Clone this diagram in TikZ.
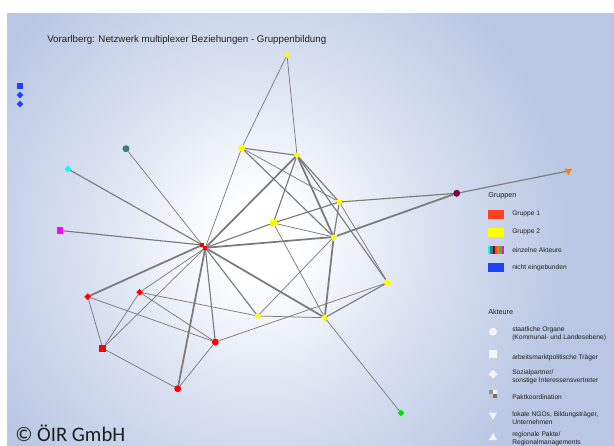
\documentclass[tikz,border=0pt]{standalone}
\usepackage{xcolor}
\usepackage{fontspec}
\setmainfont{Liberation Sans}
\newfontfamily\oirfont{Carlito}
\usepackage{tikz}
\usetikzlibrary{shapes}
\usetikzlibrary{shapes.geometric}
\usetikzlibrary{positioning}
\definecolor{bgblue}{RGB}{185,199,228}
\colorlet{glowmid}{bgblue!50!white}
\definecolor{linkgray}{RGB}{122,122,122}
\definecolor{yel}{RGB}{255,255,0}
\definecolor{rd}{RGB}{255,0,0}
\definecolor{tealc}{RGB}{58,126,120}
\definecolor{cyanc}{RGB}{0,255,255}
\definecolor{magc}{RGB}{255,0,255}
\definecolor{maroonc}{RGB}{128,0,64}
\definecolor{orangec}{RGB}{255,128,0}
\definecolor{greenc}{RGB}{0,225,0}
\definecolor{bluec}{RGB}{32,64,255}
\definecolor{swred}{RGB}{255,64,32}
\definecolor{txt}{RGB}{30,30,30}
\colorlet{legwhite}{white!80!bgblue}
\pgfdeclareradialshading{glow}{\pgfpoint{0bp}{0bp}}{color(0bp)=(white); color(3bp)=(white); color(12bp)=(glowmid); color(24bp)=(bgblue); color(50bp)=(bgblue)}
\pgfdeclarelayer{bg}
\pgfdeclarelayer{edges}
\pgfsetlayers{bg,edges,main}
\tikzset{
  lnk/.style = {draw=linkgray, line width=0.55pt},
  lnkm/.style = {lnk, line width=0.85pt},
  lnkw/.style = {lnk, line width=1.3pt},
  akt/.style = {inner sep=0pt, outer sep=0pt, draw=none},
  circ/.style = {akt, circle, minimum size=5.2pt},
  sq/.style = {akt, rectangle, minimum size=5pt},
  dia/.style = {akt, diamond, minimum size=5pt},
  tdown/.style = {akt, regular polygon, regular polygon sides=3, shape border rotate=180, minimum size=6.2pt},
  tup/.style = {akt, regular polygon, regular polygon sides=3, minimum size=7pt},
  swatch/.style = {rectangle, inner sep=0pt, minimum width=12pt, minimum height=6.5pt},
  leghead/.style = {anchor=west, inner sep=0pt, text=txt, font=\fontsize{5.4}{6.4}\selectfont},
  legtxt/.style = {anchor=west, inner sep=0pt, align=left, text=txt, font=\fontsize{5}{6}\selectfont}
}

\begin{document}
\begin{tikzpicture}[x=0.75pt, y=-0.75pt]
\useasboundingbox (0,0) rectangle (614,446);
\begin{pgfonlayer}{bg}
\fill[white] (0,0) rectangle (614,446);
\fill[bgblue] (7,13) rectangle (614,446);
\begin{scope}
\clip (7,13) rectangle (614,446);
\shade[shading=glow] (258,238) circle (330);
\end{scope}
\end{pgfonlayer}

\node [leghead, font=\fontsize{7.3}{8}\selectfont] (title) at (47,40) {Vorarlberg: Netzwerk multiplexer Beziehungen - Gruppenbildung};
\node [anchor=base west, inner sep=0pt, text=txt, font=\oirfont\fontsize{15.5}{18}\selectfont] (oir) at (15,441.5) {© ÖIR GmbH};

% nicht eingebunden
\node [sq, fill=bluec, minimum size=4pt] (nb1) at (20,86) {};
\node [dia, fill=bluec] (nb2) at (20,95) {};
\node [dia, fill=bluec] (nb3) at (20,104) {};

% Gruppe 2
\node [circ, fill=yel, minimum size=4pt] (ytop) at (287,55) {};
\node [circ, fill=yel] (ycirc) at (241.7,148) {};
\node [tdown, fill=yel] (ytri1) at (297,155.3) {};
\node [tdown, fill=yel] (ytri2) at (339.3,202) {};
\node [sq, fill=yel] (ysq) at (273.3,223) {};
\node [tdown, fill=yel] (ytri3) at (333.7,237) {};
\node [circ, fill=yel] (ycirc2) at (387.7,282.5) {};
\node [dia, fill=yel] (ydia1) at (257.7,316) {};
\node [dia, fill=yel] (ydia2) at (324.7,317.7) {};

% Gruppe 1
\node [sq, fill=rd, minimum size=3pt] (rc1) at (202.3,245) {};
\node [sq, fill=rd, minimum size=3pt] (rc2) at (205.3,247.8) {};
\node [dia, fill=rd] (rdia1) at (87.7,296.7) {};
\node [dia, fill=rd] (rdia2) at (139.7,292.3) {};
\node [sq, fill=rd, minimum size=5.4pt] (rsq) at (102.7,348.3) {};
\node [circ, fill=rd] (rcirc1) at (215.3,342) {};
\node [circ, fill=rd] (rcirc2) at (177.7,388.7) {};

% einzelne Akteure
\node [circ, fill=tealc] (teal) at (126,148.7) {};
\node [dia, fill=cyanc] (cyan) at (68,169) {};
\node [sq, fill=magc] (mag) at (60,230.5) {};
\node [circ, fill=maroonc] (maroon) at (456.7,193.3) {};
\node [tdown, fill=orangec] (orange) at (568.3,171) {};
\node [dia, fill=greenc] (green) at (401,413) {};

\begin{pgfonlayer}{edges}
\draw [lnk] (rc1) -- (teal);
\draw [lnkm] (rc1) -- (cyan);
\draw [lnkm] (rc1) -- (mag);
\draw [lnk] (rc2) -- (ycirc);
\draw [lnkw] (rc2) -- (ytri1);
\draw [lnkm] (rc2) -- (ysq);
\draw [lnkw] (rc2) -- (ytri3);
\draw [lnkw] (rc1) -- (rdia1);
\draw [lnk] (rc2) -- (rdia2);
\draw [lnk] (rc2) -- (rsq);
\draw [lnkw] (rc2) -- (rcirc2);
\draw [lnkm] (rc2) -- (rcirc1);
\draw [lnkm] (rc2) -- (ydia1);
\draw [lnkw] (rc2) -- (ydia2);
\draw [lnk] (ytop) -- (ycirc);
\draw [lnk] (ytop) -- (ytri1);
\draw [lnkm] (ycirc) -- (ytri1);
\draw [lnk] (ycirc) -- (ytri2);
\draw [lnkm] (ycirc) -- (ytri3);
\draw [lnkm] (ytri1) -- (ysq);
\draw [lnkw] (ytri1) -- (ytri3);
\draw [lnkm] (ytri1) -- (ytri2);
\draw [lnkm] (ytri1) -- (ycirc2);
\draw [lnkm] (ytri2) -- (ytri3);
\draw [lnk] (ytri2) -- (ycirc2);
\draw [lnkm] (ytri2) -- (ysq);
\draw [lnkm] (ytri2) -- (maroon);
\draw [lnk] (ysq) -- (ytri3);
\draw [lnk] (ysq) -- (ydia2);
\draw [lnkw] (ytri3) -- (maroon);
\draw [lnkw] (ytri3) -- (ydia2);
\draw [lnk] (ytri3) -- (ydia1);
\draw [lnkm] (maroon) -- (orange);
\draw [lnk] (rdia1) -- (rsq);
\draw [lnk] (rdia1) -- (rcirc1);
\draw [lnk] (rdia2) -- (rsq);
\draw [lnk] (rdia2) -- (rcirc1);
\draw [lnk] (rdia2) -- (ydia1);
\draw [lnk] (rsq) -- (rcirc2);
\draw [lnk] (rcirc2) -- (rcirc1);
\draw [lnk] (rcirc1) -- (ycirc2);
\draw [lnk] (ydia1) -- (ydia2);
\draw [lnkm] (ydia2) -- (ycirc2);
\draw [lnk] (ydia2) -- (green);
\end{pgfonlayer}

% Legende Gruppen
\node [leghead] (gruppen) at (488,196) {Gruppen};
\node [swatch, fill=swred] (sw1) at (496.3,214.3) {};
\node [swatch, fill=yel] (sw2) at (496.3,232.3) {};
\node [swatch] (sw3) at (496.3,249.7) {};
\foreach \c [count=\i] in {cyanc,tealc,maroonc,swred,orangec,greenc,magc}
  \fill [\c] ([xshift={(\i-1)*12pt/7}]sw3.south west) rectangle ++(12pt/7,6.5pt);
\node [swatch, fill=bluec] (sw4) at (496.3,267.7) {};
\node [legtxt] (g1) at (512,214.3) {Gruppe 1};
\node [legtxt] (g2) at (512,232.3) {Gruppe 2};
\node [legtxt] (g3) at (512,249.7) {einzelne Akteure};
\node [legtxt] (g4) at (512,267.7) {nicht eingebunden};

% Legende Akteure
\node [leghead] (akteure) at (488,312.3) {Akteure};
\node [circ, fill=legwhite, minimum size=6pt] (ak1) at (493,331.7) {};
\node [sq, fill=legwhite, minimum size=6pt] (ak2) at (493,354.3) {};
\node [dia, fill=legwhite, minimum size=6.5pt] (ak3) at (493,374.3) {};
\node [sq, minimum size=6pt] (ak4) at (493,394.3) {};
\fill [gray!85] (ak4.north west) rectangle (ak4.center);
\fill [legwhite] (ak4.north) rectangle (ak4.east);
\fill [gray!45] (ak4.west) rectangle (ak4.south);
\fill [gray!90!black] (ak4.center) rectangle (ak4.south east);
\node [tdown, fill=legwhite, minimum size=7pt] (ak5) at (493,415) {};
\node [tup, fill=legwhite] (ak6) at (493,437.7) {};
\node [legtxt] (a1) at (512,333.3) {staatliche Organe\\(Kommunal- und Landesebene)};
\node [legtxt] (a2) at (512,357.3) {arbeitsmarktpolitische Träger};
\node [legtxt] (a3) at (512,376.3) {Sozialpartner/\\sonstige Interessensvertreter};
\node [legtxt] (a4) at (512,397) {Paktkoordination};
\node [legtxt] (a5) at (512,418.3) {lokale NGOs, Bildungsträger,\\Unternehmen};
\node [legtxt] (a6) at (512,439) {regionale Pakte/\\Regionalmanagements};
\end{tikzpicture}
\end{document}
